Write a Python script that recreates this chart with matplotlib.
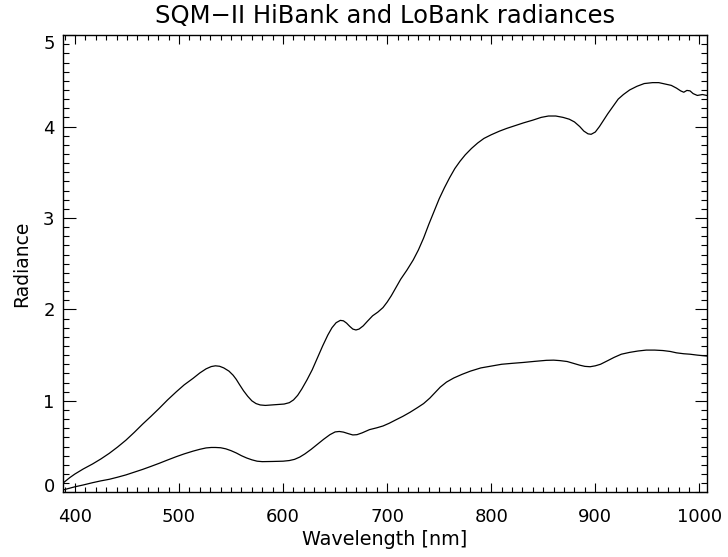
import numpy as np
import matplotlib
matplotlib.use("Agg")
import matplotlib.pyplot as plt
from matplotlib.ticker import MultipleLocator

# HiBank radiance (upper curve)
hi_wl = [388.5, 395, 400, 408, 417, 425, 433, 441, 449, 457, 465, 473, 481,
         489, 497.5, 505, 513.5, 520, 526, 531, 535, 539, 543, 548, 552, 555,
         558, 562, 566, 570, 574, 578, 583, 589, 595, 601, 606, 610, 614, 618,
         623, 628, 633, 638, 643, 647, 651, 655, 658, 661, 664, 667, 670, 673,
         677, 681, 686, 691, 696, 700, 704, 708, 713, 719, 725, 730, 735, 740,
         745, 750, 755, 760, 765, 770, 775, 781, 787, 793, 800, 808, 815, 823,
         831, 840, 848, 855, 862, 869, 875, 880, 885, 889, 893, 896, 900, 904,
         908, 912, 917, 922, 927, 933, 940, 947, 955, 961, 967, 973, 978, 982,
         985, 988, 991, 994, 998, 1003, 1007]
hi_val = [0.10, 0.16, 0.20, 0.255, 0.31, 0.365, 0.426, 0.495, 0.57, 0.655,
          0.745, 0.83, 0.918, 1.01, 1.10, 1.175, 1.246, 1.305, 1.35, 1.375,
          1.383, 1.378, 1.36, 1.325, 1.28, 1.235, 1.18, 1.11, 1.05, 1.00, 0.97,
          0.955, 0.95, 0.955, 0.96, 0.965, 0.98, 1.01, 1.06, 1.13, 1.23, 1.34,
          1.47, 1.60, 1.72, 1.80, 1.855, 1.88, 1.875, 1.85, 1.815, 1.785,
          1.775, 1.785, 1.82, 1.87, 1.93, 1.97, 2.02, 2.08, 2.15, 2.23, 2.33,
          2.43, 2.54, 2.65, 2.78, 2.93, 3.07, 3.21, 3.33, 3.44, 3.54, 3.62,
          3.69, 3.76, 3.82, 3.87, 3.91, 3.95, 3.98, 4.01, 4.04, 4.07, 4.10,
          4.115, 4.115, 4.10, 4.08, 4.05, 4.00, 3.95, 3.92, 3.915, 3.94, 4.00,
          4.07, 4.14, 4.22, 4.30, 4.35, 4.40, 4.44, 4.47, 4.48, 4.48, 4.465,
          4.45, 4.42, 4.39, 4.375, 4.395, 4.39, 4.36, 4.34, 4.35, 4.34]

# LoBank radiance (lower curve)
lo_wl = [388.5, 395, 400, 408, 417, 425, 433, 441, 449, 457, 465, 473, 481,
         489, 497.5, 505, 513.5, 520, 526, 531, 535, 540, 545, 550, 555, 560,
         565, 570, 575, 580, 590, 600, 606, 611, 616, 621, 627, 633, 639, 645,
         650, 654, 658, 663, 667, 671, 676, 683, 690, 696, 702, 708, 715, 722,
         729, 735, 741, 746, 751, 757, 764, 772, 780, 790, 800, 810, 820, 831,
         842, 853, 860, 866, 873, 879, 885, 890, 895, 900, 905, 912, 918, 925,
         933, 941, 949, 957, 965, 972, 978, 985, 991, 998, 1007]
lo_val = [0.025, 0.045, 0.06, 0.08, 0.105, 0.125, 0.142, 0.165, 0.19, 0.22,
          0.25, 0.283, 0.317, 0.353, 0.39, 0.42, 0.45, 0.47, 0.485, 0.49, 0.49,
          0.487, 0.475, 0.455, 0.43, 0.40, 0.375, 0.355, 0.34, 0.335, 0.337,
          0.34, 0.347, 0.36, 0.385, 0.42, 0.47, 0.525, 0.58, 0.63, 0.66, 0.665,
          0.658, 0.64, 0.627, 0.63, 0.65, 0.685, 0.705, 0.725, 0.755, 0.79,
          0.83, 0.875, 0.925, 0.97, 1.03, 1.09, 1.15, 1.205, 1.25, 1.29, 1.325,
          1.36, 1.38, 1.40, 1.41, 1.42, 1.432, 1.443, 1.445, 1.44, 1.43, 1.41,
          1.39, 1.377, 1.373, 1.383, 1.40, 1.44, 1.475, 1.51, 1.53, 1.545,
          1.555, 1.555, 1.55, 1.54, 1.525, 1.515, 1.51, 1.50, 1.49]

y_ticks = [0, 1, 2, 3, 4, 5]

fig = plt.figure(figsize=(7.28, 5.57), dpi=100)
ax = fig.add_axes([0.0865, 0.1162, 0.8842, 0.8208])

ax.plot(hi_wl, hi_val, color="black", lw=0.9)
ax.plot(lo_wl, lo_val, color="black", lw=0.9)

ax.set_xlim(388.5, 1007)
ax.set_ylim(0, 5)
ax.xaxis.set_major_locator(MultipleLocator(100))
ax.xaxis.set_minor_locator(MultipleLocator(10))
ax.set_yticks(y_ticks)
ax.yaxis.set_minor_locator(MultipleLocator(0.1))

ax.tick_params(axis="x", which="both", direction="in", top=True, bottom=True,
               labelsize=13, pad=11, width=0.8)
ax.tick_params(axis="x", which="major", length=6.5)
ax.tick_params(axis="x", which="minor", length=3.3)
ax.tick_params(axis="y", which="both", direction="in", left=True, right=True,
               labelsize=13, pad=6, width=0.8)
ax.tick_params(axis="y", which="major", length=9)
ax.tick_params(axis="y", which="minor", length=4.5)
for sp in ax.spines.values():
    sp.set_linewidth(1.0)

# IDL keeps the end labels inside the axis range
yt = ax.yaxis.get_major_ticks()
yt[0].label1.set_va("baseline")
yt[-1].label1.set_va("top")

ax.set_xlabel("Wavelength [nm]", fontsize=13.8, labelpad=3)
ax.set_ylabel("Radiance", fontsize=13.5, labelpad=9)
ax.set_title("SQM\u2212II HiBank and LoBank radiances", fontsize=17.5, pad=9)

fig.savefig("out.png", dpi=100)
